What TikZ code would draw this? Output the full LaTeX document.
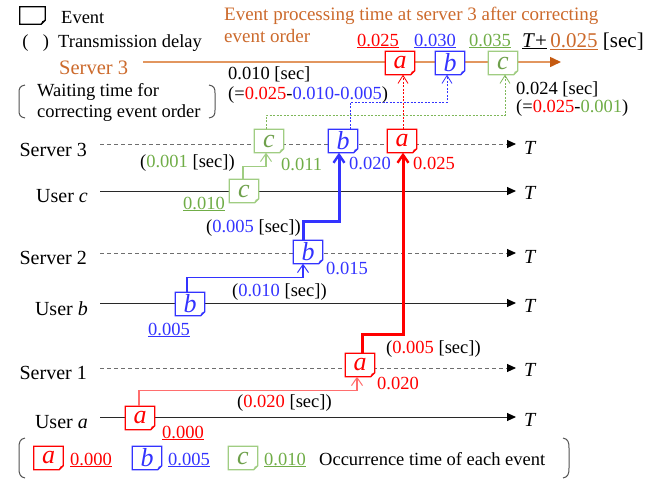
\documentclass[tikz,border=0pt]{standalone}
\usepackage{fontspec}
\setmainfont{Liberation Serif}
\usetikzlibrary{arrows.meta,calc}

\definecolor{evred}{RGB}{255,0,0}
\definecolor{evblue}{RGB}{51,51,255}
\definecolor{evgreen}{RGB}{112,173,71}
\definecolor{boxgreen}{RGB}{160,205,130}
\definecolor{lettergreen}{RGB}{110,160,75}
\definecolor{lightred}{RGB}{255,110,110}
\definecolor{orangetxt}{RGB}{204,106,44}
\definecolor{orangeln}{RGB}{226,150,95}
\definecolor{orangetip}{RGB}{197,90,17}
\definecolor{dashgray}{RGB}{110,110,110}
\definecolor{linegray}{RGB}{40,40,40}
\definecolor{brk}{RGB}{80,80,80}

\newcommand\cred[1]{\textcolor{evred}{#1}}
\newcommand\cblue[1]{\textcolor{evblue}{#1}}
\newcommand\cgreen[1]{\textcolor{evgreen}{#1}}

% outline of an event box: rectangle with a folded lower-right corner
\newcommand\evoutline[2]{%
  \draw[#2, line width=1.3pt, line join=miter]
    (#1.north west) -- (#1.north east) -- ([yshift=4pt]#1.south east)
    -- ([xshift=-4pt]#1.south east) -- (#1.south west) -- cycle;
  \fill[#2] ([yshift=4pt]#1.south east) -- ([xshift=-4pt]#1.south east)
    -- ([xshift=-3pt,yshift=3pt]#1.south east) -- cycle;
}

\begin{document}
\begin{tikzpicture}[x=1pt,y=-1pt,
  txt/.style={font=\fontsize{18.5}{21}\selectfont, inner sep=0pt},
  side/.style={font=\fontsize{20}{23}\selectfont, inner sep=0pt, anchor=east},
  tlab/.style={font=\fontsize{20}{23}\selectfont\itshape, inner sep=0pt, anchor=west},
  evt/.style={minimum width=29pt, minimum height=23pt, inner sep=0pt, fill=white,
    text=#1, font=\fontsize{26}{26}\selectfont\itshape},
  server/.style={dashgray, line width=0.9pt, dash pattern=on 4pt off 3pt,
    -{Triangle[length=9pt,width=8pt,color=black]}},
  user/.style={linegray, line width=1pt, -{Triangle[length=9pt,width=8pt,color=black]}},
  thin/.style={line width=1.1pt, -{Straight Barb[length=8pt,width=11pt,line width=1pt]}},
  thick/.style={line width=3pt, -{Straight Barb[length=8pt,width=11pt,line width=2.4pt]}},
  dotty/.style={line width=0.9pt, dash pattern=on 2pt off 1.5pt,
    -{Straight Barb[length=8pt,width=10pt,line width=0.8pt]}},
  bracket/.style={brk, line width=1pt}
]
\useasboundingbox (0,0) rectangle (667,483);

% ---------- legend at the top left ----------
\node[evt=black, minimum width=25pt, minimum height=17pt] (legev) at (32.5,15.5) {};
\evoutline{legev}{black}
\node[txt, anchor=west] (legevt) at (61,18) {Event};
\node[txt] (lpo) at (25.5,43) {(};
\node[txt] (lpc) at (46,43) {)};
\node[txt, anchor=west] (legtd) at (58,43) {Transmission delay};

\draw[bracket] (25,85) .. controls (20,86) and (19,88) .. (19,93) -- (19,110)
  .. controls (19,115) and (20,117) .. (25,118);
\draw[bracket] (209,85) .. controls (214,86) and (215,88) .. (215,93) -- (215,110)
  .. controls (215,115) and (214,117) .. (209,118);
\node[txt, anchor=west] (wait1) at (37,92) {Waiting time for};
\node[txt, anchor=west] (wait2) at (37,113) {correcting event order};

% ---------- server 3 after reordering ----------
\node[txt, text=orangetxt, anchor=base west, font=\fontsize{19}{22}\selectfont] (title1) at (224,20)
  {Event processing time at server 3 after correcting};
\node[txt, text=orangetxt, anchor=base west, font=\fontsize{19}{22}\selectfont] (title2) at (224,42)
  {event order};
\node[txt, text=orangetxt, anchor=west, font=\fontsize{20.5}{23}\selectfont] (s3name) at (59,68) {Server 3};
\coordinate (olS) at (143,62);
\coordinate (olE) at (561,62);
\draw[orangeln, line width=1.5pt, -{Triangle[length=11pt,width=10pt,color=orangetip]}] (olS) -- (olE);

\node[evt=evred]       (ta) at (400,63) {a};
\node[evt=evblue]      (tb) at (450,63) {b};
\node[evt=lettergreen] (tc) at (503,63) {c};
\evoutline{ta}{evred}
\evoutline{tb}{evblue}
\evoutline{tc}{boxgreen}

\node[txt, anchor=base] (tta) at (378,46) {\cred{\underline{0.025}}};
\node[txt, anchor=base] (ttb) at (435,46) {\cblue{\underline{0.030}}};
\node[txt, anchor=base] (ttc) at (490,46) {\cgreen{\underline{0.035}}};
\node[txt, anchor=base west, font=\fontsize{21}{24}\selectfont] (tplus) at (522,47)
  {\underline{\textit{T}+}\,\textcolor{orangetxt}{\underline{0.025}} [sec]};

\node[txt, anchor=west] (wb1) at (228,74) {0.010 [sec]};
\node[txt, anchor=west] (wb2) at (228,95) {(=\cred{0.025}-\cblue{0.010-0.005})};
\node[txt, anchor=west] (wc1) at (516,89) {0.024 [sec]};
\node[txt, anchor=west] (wc2) at (516,108) {(=\cred{0.025}-\cgreen{0.001})};

% ---------- time lines ----------
\coordinate (s3S) at (100,144); \coordinate (s3E) at (516,144);
\coordinate (ucS) at (100,191); \coordinate (ucE) at (516,191);
\coordinate (s2S) at (100,253); \coordinate (s2E) at (516,253);
\coordinate (ubS) at (100,303); \coordinate (ubE) at (516,303);
\coordinate (s1S) at (100,368); \coordinate (s1E) at (516,368);
\coordinate (uaS) at (100,417); \coordinate (uaE) at (516,417);
\draw[server] (s3S) -- (s3E);
\draw[user]   (ucS) -- (ucE);
\draw[server] (s2S) -- (s2E);
\draw[user]   (ubS) -- (ubE);
\draw[server] (s1S) -- (s1E);
\draw[user]   (uaS) -- (uaE);

\node[side] (ls3) at (87,150) {Server 3};
\node[side] (luc) at (88,196) {User \textit{c}};
\node[side] (ls2) at (87,258) {Server 2};
\node[side] (lub) at (88,309) {User \textit{b}};
\node[side] (ls1) at (87,373) {Server 1};
\node[side] (lua) at (88,422) {User \textit{a}};

\node[tlab] (T3) at (524,148) {T};
\node[tlab] (Tc) at (524,193) {T};
\node[tlab] (T2) at (524,257) {T};
\node[tlab] (Tb) at (524,306) {T};
\node[tlab] (T1) at (524,370) {T};
\node[tlab] (Ta) at (524,420) {T};

% ---------- events on the time lines ----------
\node[evt=lettergreen] (s3c) at (269,141) {c};
\node[evt=evblue]      (s3b) at (343,141) {b};
\node[evt=evred]       (s3a) at (402,141) {a};
\node[evt=lettergreen] (uc)  at (244,191) {c};
\node[evt=evblue]      (s2b) at (308,252) {b};
\node[evt=evblue]      (ub)  at (190,304) {b};
\node[evt=evred]       (s1a) at (360,365) {a};
\node[evt=evred]       (ua)  at (140,418) {a};
\evoutline{s3c}{boxgreen}
\evoutline{s3b}{evblue}
\evoutline{s3a}{evred}
\evoutline{uc}{boxgreen}
\evoutline{s2b}{evblue}
\evoutline{ub}{evblue}
\evoutline{s1a}{evred}
\evoutline{ua}{evred}

% transmissions
\draw[thin, boxgreen] ([xshift=-1pt]uc.north) -- ++(0,-13) -| ([xshift=-3pt]s3c.south);
\draw[thin, evblue] ([xshift=-3pt]ub.north) -- ++(0,-15) -| ([xshift=-5pt]s2b.south);
\draw[thin, lightred] ([xshift=-1pt]ua.north) -- ++(0,-16) -| ([xshift=-3pt]s1a.south);
\draw[thick, evblue] ([xshift=-5pt]s2b.north) -- ++(0,-19) -| ([xshift=-4pt]s3b.south);
\draw[thick, evred] ([xshift=2pt]s1a.north) -- ++(0,-19) -| ([xshift=1pt]s3a.south);

% waiting for the correct order at server 3
\draw[dotty, evred] ([xshift=1pt]s3a.north) -- ([xshift=1pt]s3a.north |- ta.south);
\draw[dotty, evblue] ([xshift=7pt]s3b.north) -- ++(0,-27) -| ([xshift=-3pt]tb.south);
\draw[dotty, evgreen!70!boxgreen] ([xshift=-3pt]s3c.north) -- ++(0,-14) -| ([xshift=2pt]tc.south);

% delay and time labels
\node[txt, anchor=west] (dc)  at (140,163) {(\cgreen{0.001} [sec])};
\node[txt, anchor=west, text=evgreen] (t011) at (281,164) {0.011};
\node[txt, anchor=base west] (t010) at (183,209) {\cgreen{\underline{0.010}}};
\node[txt, anchor=west] (db2) at (206,228) {(\cblue{0.005} [sec])};
\node[txt, anchor=west, text=evblue] (t020b) at (349,163) {0.020};
\node[txt, anchor=west, text=evred] (t025a) at (413,163) {0.025};
\node[txt, anchor=west, text=evblue] (t015) at (326,268) {0.015};
\node[txt, anchor=west] (db1) at (232,292) {(\cblue{0.010} [sec])};
\node[txt, anchor=base west] (t005) at (148,335) {\cblue{\underline{0.005}}};
\node[txt, anchor=west] (da2) at (386,349) {(\cred{0.005} [sec])};
\node[txt, anchor=west, text=evred] (t020a) at (377,383) {0.020};
\node[txt, anchor=west] (da1) at (237,403) {(\cred{0.020} [sec])};
\node[txt, anchor=base west] (t000) at (162,438) {\cred{\underline{0.000}}};

% ---------- legend at the bottom ----------
\draw[bracket] (25,438) .. controls (20,439) and (19,442) .. (19,448) -- (19,468)
  .. controls (19,474) and (20,477) .. (25,478);
\draw[bracket] (563,438) .. controls (568,439) and (569,442) .. (569,448) -- (569,468)
  .. controls (569,474) and (568,477) .. (563,478);
\node[evt=evred]       (la) at (48.5,458) {a};
\node[evt=evblue]      (lb) at (147,458) {b};
\node[evt=lettergreen] (lc) at (243,458) {c};
\evoutline{la}{evred}
\evoutline{lb}{evblue}
\evoutline{lc}{boxgreen}
\node[txt, anchor=base west] (la0) at (70,465) {\cred{\underline{0.000}}};
\node[txt, anchor=base west] (lb0) at (168,465) {\cblue{\underline{0.005}}};
\node[txt, anchor=base west] (lc0) at (264,465) {\cgreen{\underline{0.010}}};
\node[txt, anchor=base west] (locc) at (319,465) {Occurrence time of each event};
\end{tikzpicture}
\end{document}
